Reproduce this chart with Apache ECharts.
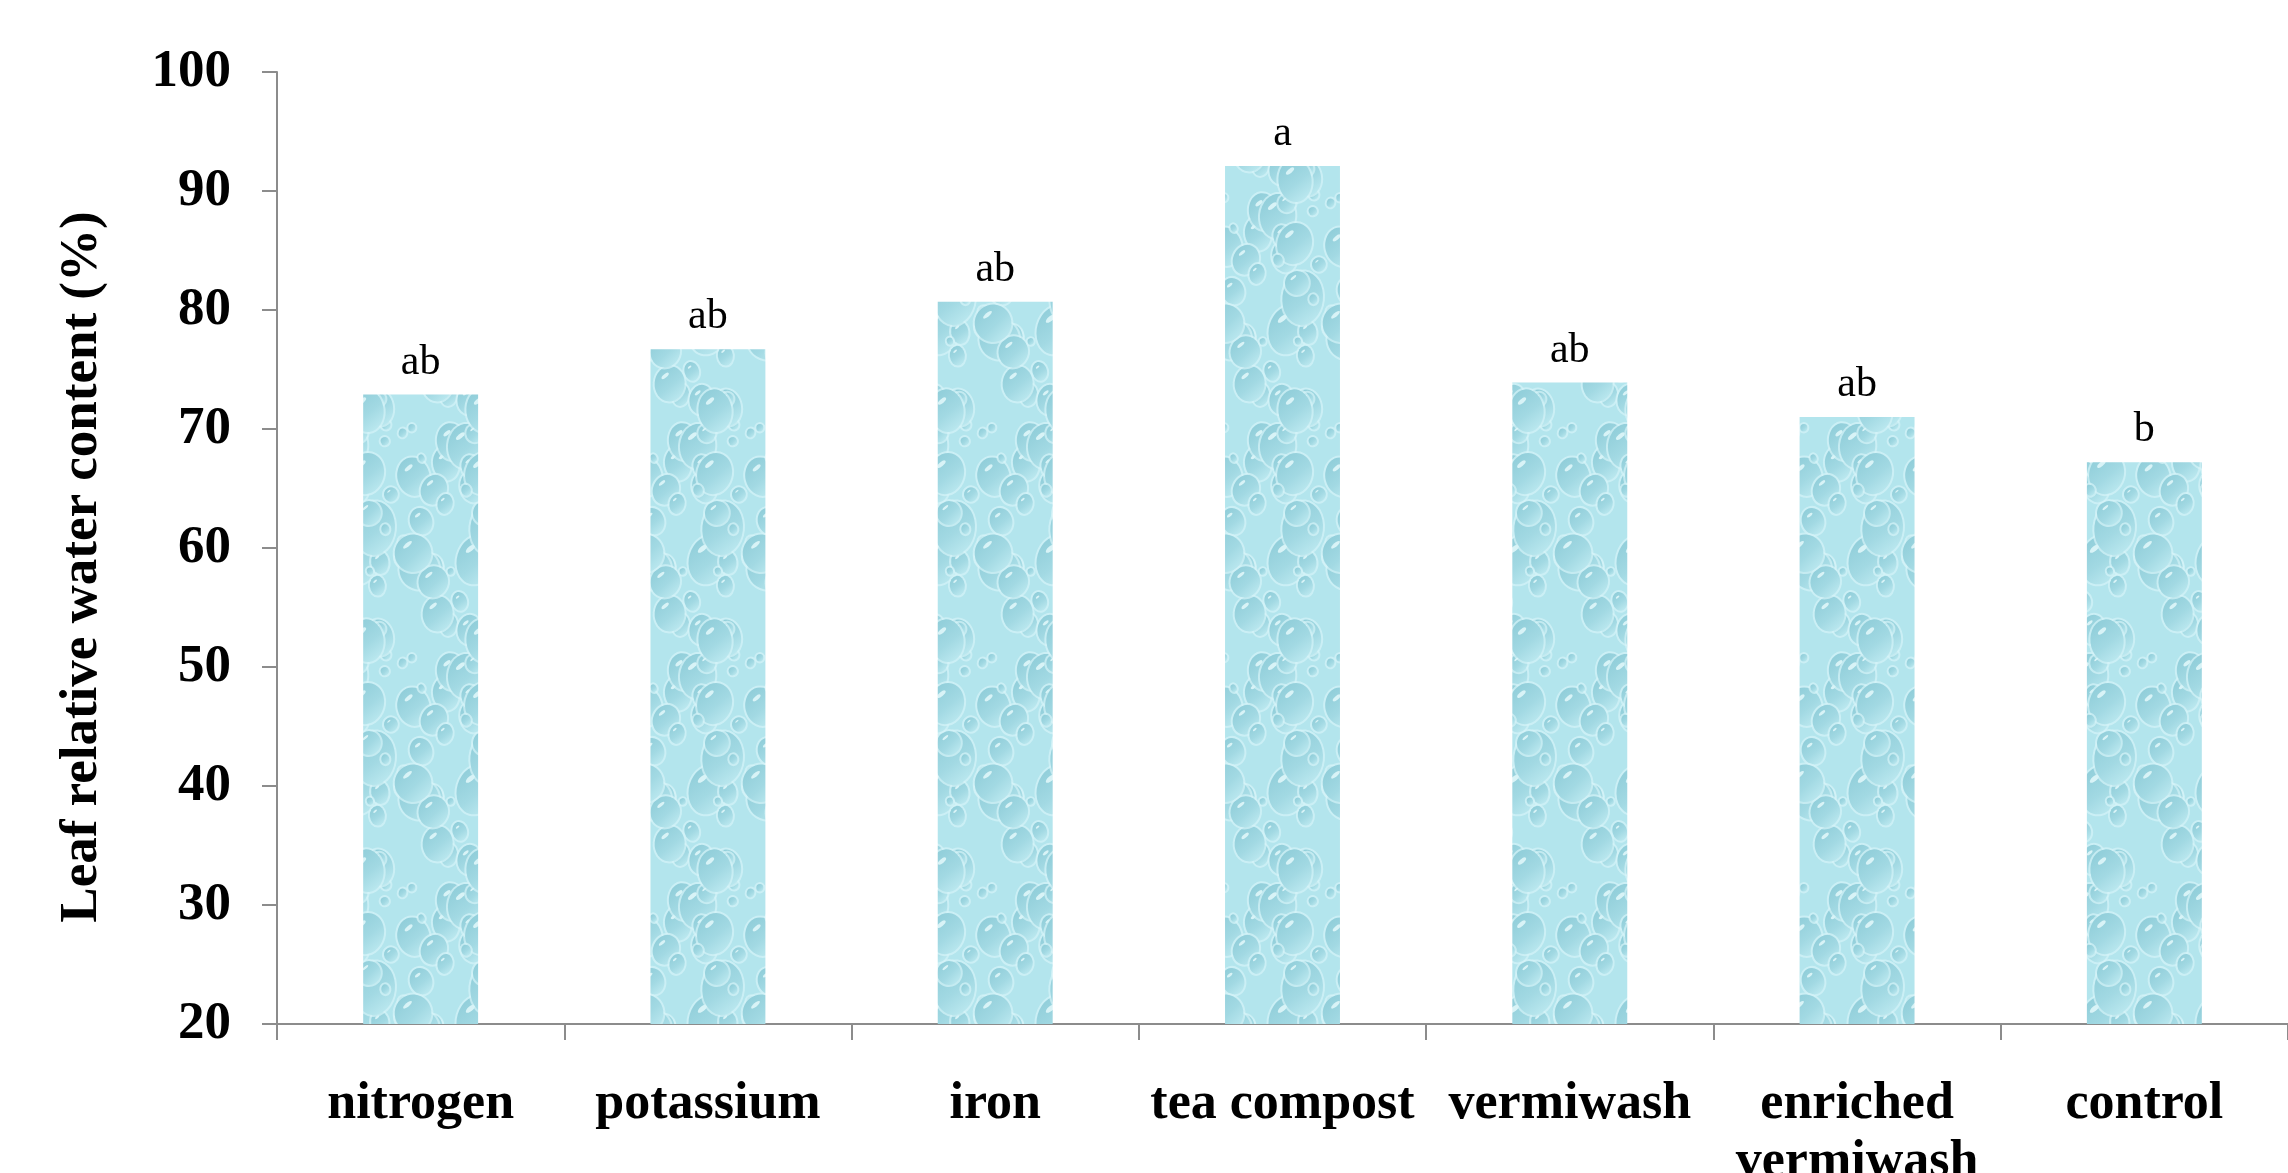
<!DOCTYPE html>
<html>
<head>
<meta charset="utf-8">
<script src="https://cdn.jsdelivr.net/npm/echarts@6/dist/echarts.min.js"></script>
<style>
html,body{margin:0;padding:0;background:#fff;}
#chart{width:2288px;height:1173px;}
</style>
</head>
<body>
<div id="chart"></div>
<script>
// ---- data ----
const categories = ['nitrogen', 'potassium', 'iron', 'tea compost', 'vermiwash', 'enriched\nvermiwash', 'control'];
const values = [72.9, 76.7, 80.7, 92.1, 73.9, 71.0, 67.2];
const letters = ['ab', 'ab', 'ab', 'a', 'ab', 'ab', 'b'];
const yTicks = { min: 20, max: 100, interval: 10 };
const yTitle = 'Leaf relative water content (%)';

// ---- water-drop texture (decoration only) ----
function makeTexture() {
  const w = 116, h = 230;
  const c = document.createElement('canvas');
  c.width = w; c.height = h;
  const g = c.getContext('2d');
  g.fillStyle = '#b3e5ed';
  g.fillRect(0, 0, w, h);
  let s = 0.37;
  function nx() { s = Math.abs(Math.sin(s * 12.9898 + 78.233) * 43758.5453) % 1; return s; }
  for (let i = 0; i < 42; i++) {
    const x = nx() * w, y = nx() * h;
    const r = 3 + Math.pow(nx(), 1.6) * 19;
    const ry = r * (1.0 + nx() * 0.35);
    const rot = (nx() - 0.5) * 0.8;
    for (const dx of [-w, 0, w]) for (const dy of [-h, 0, h]) {
      const cx = x + dx, cy = y + dy;
      if (cx + r + 3 < 0 || cx - r - 3 > w || cy + ry + 3 < 0 || cy - ry - 3 > h) continue;
      g.beginPath();
      g.ellipse(cx, cy, r + 2, ry + 2, rot, 0, Math.PI * 2);
      g.fillStyle = 'rgba(214,244,248,0.7)';
      g.fill();
      const gr = g.createLinearGradient(cx - r, cy - ry, cx + r, cy + ry);
      gr.addColorStop(0, '#8ccbd7');
      gr.addColorStop(0.55, '#a2d9e3');
      gr.addColorStop(1, '#c3edf3');
      g.beginPath();
      g.ellipse(cx, cy, r, ry, rot, 0, Math.PI * 2);
      g.fillStyle = gr;
      g.fill();
      if (r > 6) {
        g.beginPath();
        g.ellipse(cx - r * 0.3, cy - ry * 0.45, r * 0.3, ry * 0.1, -0.7, 0, Math.PI * 2);
        g.fillStyle = 'rgba(232,251,253,0.8)';
        g.fill();
      }
    }
  }
  return c;
}

const FONT = '"Liberation Serif", "Times New Roman", serif';
const axisGray = '#8c8c8c';

const chart = echarts.init(document.getElementById('chart'), null, { renderer: 'canvas' });
chart.setOption({
  backgroundColor: '#ffffff',
  animation: false,
  grid: { left: 277, right: 0, top: 72, bottom: 149, containLabel: false, outerBoundsMode: 'none' },
  xAxis: {
    type: 'category',
    data: categories,
    boundaryGap: true,
    axisLine: { show: true, lineStyle: { color: axisGray, width: 2 } },
    axisTick: { show: true, length: 16, alignWithLabel: false, lineStyle: { color: axisGray, width: 2 } },
    axisLabel: {
      interval: 0, margin: 52,
      fontFamily: FONT, fontSize: 52, fontWeight: 'bold', color: '#000', lineHeight: 58
    }
  },
  yAxis: {
    type: 'value',
    min: yTicks.min, max: yTicks.max, interval: yTicks.interval,
    name: yTitle,
    nameLocation: 'middle',
    nameRotate: 90,
    nameGap: 168,
    nameMoveOverlap: false,
    nameTextStyle: { fontFamily: FONT, fontSize: 53, fontWeight: 'bold', color: '#000', padding: [0, 38, 0, 0] },
    axisLine: { show: true, lineStyle: { color: axisGray, width: 2 } },
    axisTick: { show: true, length: 15, lineStyle: { color: axisGray, width: 2 } },
    splitLine: { show: false },
    axisLabel: { margin: 46, fontFamily: FONT, fontSize: 53, fontWeight: 'bold', color: '#000' }
  },
  series: [{
    type: 'bar',
    data: values,
    barWidth: '40%',
    itemStyle: { color: { image: makeTexture(), repeat: 'repeat' } },
    label: {
      show: true, position: 'top', distance: 11,
      fontFamily: FONT, fontSize: 42, color: '#000',
      formatter: p => letters[p.dataIndex]
    }
  }]
});
</script>
</body>
</html>
